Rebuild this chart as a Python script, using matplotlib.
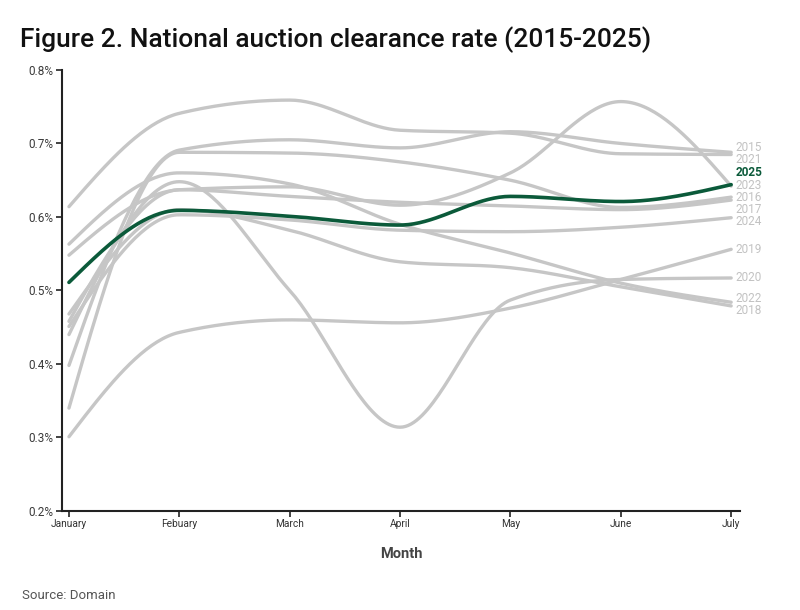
import numpy as np
import matplotlib
matplotlib.use("Agg")
import matplotlib.pyplot as plt
from matplotlib.ticker import FuncFormatter

plt.rcParams['font.family'] = ['Roboto', 'DejaVu Sans']

months = ["January", "Febuary", "March", "April", "May", "June", "July"]
years = ["2015", "2016", "2017", "2018", "2019", "2020", "2021", "2022", "2023", "2024", "2025"]

r2015 = [0.398, 0.691, 0.705, 0.694, 0.716, 0.700, 0.688]
r2016 = [0.340, 0.688, 0.687, 0.675, 0.650, 0.613, 0.627]
r2017 = [0.458, 0.637, 0.628, 0.620, 0.615, 0.610, 0.623]
r2018 = [0.468, 0.610, 0.582, 0.539, 0.531, 0.505, 0.479]
r2019 = [0.301, 0.443, 0.460, 0.456, 0.476, 0.515, 0.556]
r2020 = [0.440, 0.648, 0.500, 0.314, 0.487, 0.515, 0.517]
r2021 = [0.614, 0.741, 0.759, 0.718, 0.714, 0.686, 0.685]
r2022 = [0.563, 0.660, 0.645, 0.590, 0.551, 0.510, 0.484]
r2023 = [0.548, 0.637, 0.641, 0.616, 0.660, 0.757, 0.642]
r2024 = [0.451, 0.603, 0.596, 0.582, 0.580, 0.586, 0.599]
r2025 = [0.511, 0.609, 0.601, 0.589, 0.628, 0.621, 0.644]

series = {"2015": r2015, "2016": r2016, "2017": r2017, "2018": r2018,
          "2019": r2019, "2020": r2020, "2021": r2021, "2022": r2022,
          "2023": r2023, "2024": r2024, "2025": r2025}

GRAY = "#c6c6c6"
GREEN = "#0b5a3a"


def monotone_x(x, y, n=40):
    x = np.asarray(x, float)
    y = np.asarray(y, float)
    h = np.diff(x)
    s = np.diff(y) / h
    t = np.zeros_like(y)
    for i in range(1, len(y) - 1):
        s0, s1 = s[i - 1], s[i]
        h0, h1 = h[i - 1], h[i]
        p = (s0 * h1 + s1 * h0) / (h0 + h1)
        t[i] = (np.sign(s0) + np.sign(s1)) * min(abs(s0), abs(s1), 0.5 * abs(p))
    t[0] = (3 * s[0] - t[1]) / 2
    t[-1] = (3 * s[-1] - t[-2]) / 2
    xs, ys = [], []
    for i in range(len(x) - 1):
        u = np.linspace(0, 1, n, endpoint=(i == len(x) - 2))
        h00 = 2 * u**3 - 3 * u**2 + 1
        h10 = u**3 - 2 * u**2 + u
        h01 = -2 * u**3 + 3 * u**2
        h11 = u**3 - u**2
        xs.append(x[i] + u * h[i])
        ys.append(h00 * y[i] + h10 * h[i] * t[i] + h01 * y[i + 1] + h11 * h[i] * t[i + 1])
    return np.concatenate(xs), np.concatenate(ys)


fig = plt.figure(figsize=(8, 6.1), dpi=100)
ax = fig.add_axes([0.0775, 0.1623, 0.8475, 0.723])

xi = np.arange(len(months))
for yr in years:
    if yr == "2025":
        continue
    sx, sy = monotone_x(xi, series[yr])
    ax.plot(sx, sy, color=GRAY, lw=2.4, solid_capstyle="round", zorder=2)
sx, sy = monotone_x(xi, series["2025"])
ax.plot(sx, sy, color=GREEN, lw=2.6, solid_capstyle="round", zorder=3)

ax.set_xlim(-0.063, 6.08)
ax.set_ylim(0.2, 0.8)
ax.set_xticks(xi)
ax.set_xticklabels(months, fontsize=7.3, color="#333333")
ax.set_yticks([0.2, 0.3, 0.4, 0.5, 0.6, 0.7, 0.8])
ax.yaxis.set_major_formatter(FuncFormatter(lambda v, p: f"{v:.1f}%"))
for lab in ax.get_yticklabels():
    lab.set_fontsize(8.5)
    lab.set_color("#3a3a3a")
ax.tick_params(axis="both", length=4, width=1.2, color="#222222", pad=2)
for side in ["top", "right"]:
    ax.spines[side].set_visible(False)
for side in ["left", "bottom"]:
    ax.spines[side].set_linewidth(1.5)
    ax.spines[side].set_color("#222222")

ax.set_xlabel("Month", fontsize=10.5, fontweight="bold", color="#444444", labelpad=13)

# end labels, spread apart to avoid overlap
ends = {yr: series[yr][-1] for yr in years}
order = sorted(years, key=lambda k: -ends[k])
pos = np.array([ends[k] for k in order])
gap = 0.0165
for _ in range(1000):
    moved = False
    for i in range(len(pos) - 1):
        d = pos[i] - pos[i + 1]
        if d < gap - 1e-6:
            shift = (gap - d) / 2
            pos[i] += shift
            pos[i + 1] -= shift
            moved = True
    if not moved:
        break
for k, p in zip(order, pos):
    is25 = k == "2025"
    ax.text(6.04, p, k, fontsize=8.5, va="center", ha="left",
            color=GREEN if is25 else "#c2c2c2",
            fontweight="bold" if is25 else "normal", clip_on=False)

fig.text(0.025, 0.923, "Figure 2. National auction clearance rate (2015-2025)",
         fontsize=19, fontweight="medium", color="#111111", ha="left", va="baseline")
fig.text(0.027, 0.018, "Source: Domain", fontsize=9.5, color="#555555", ha="left", va="baseline")

fig.savefig("out.png", dpi=100)
